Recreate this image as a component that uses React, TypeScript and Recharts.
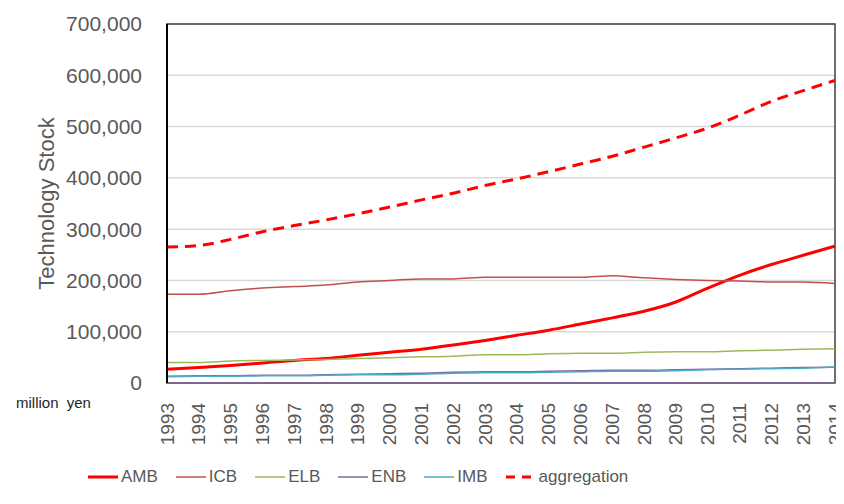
import {
  LineChart,
  Line,
  XAxis,
  YAxis,
  CartesianGrid,
  Legend,
  ReferenceArea,
  Label,
} from 'recharts';

const years = [
  '1993', '1994', '1995', '1996', '1997', '1998', '1999', '2000', '2001', '2002', '2003',
  '2004', '2005', '2006', '2007', '2008', '2009', '2010', '2011', '2012', '2013', '2014',
];

// million yen
const amb = [27000, 30000, 34000, 39000, 44000, 48000, 54000, 60000, 66000, 74000, 83000,
  93000, 103000, 115000, 127000, 140000, 158000, 185000, 210000, 231000, 249000, 267000];
const icb = [173000, 173000, 180000, 185000, 188000, 191000, 197000, 200000, 203000, 203000, 206000,
  206000, 206000, 206000, 209000, 205000, 202000, 200000, 199000, 197000, 197000, 194000];
const elb = [40000, 40000, 43000, 44000, 45000, 46000, 48000, 49000, 51000, 52000, 55000,
  55000, 57000, 58000, 58000, 60000, 61000, 61000, 63000, 64000, 66000, 67000];
const enb = [13000, 14000, 14000, 15000, 15000, 16000, 17000, 18000, 19000, 21000, 22000,
  22000, 23000, 24000, 25000, 25000, 26000, 27000, 28000, 29000, 30000, 31000];
const imb = [12000, 13000, 13000, 14000, 14000, 15000, 16000, 16000, 17000, 19000, 20000,
  20000, 21000, 22000, 23000, 23000, 24000, 26000, 27000, 28000, 29000, 31000];
const aggregation = [265000, 268000, 280000, 295000, 307000, 318000, 330000, 343000, 357000, 370000, 385000,
  398000, 412000, 427000, 442000, 460000, 478000, 497000, 522000, 549000, 570000, 590000];

const yTicks = [0, 100000, 200000, 300000, 400000, 500000, 600000, 700000];

const data = years.map((year, i) => ({
  year,
  AMB: amb[i],
  ICB: icb[i],
  ELB: elb[i],
  ENB: enb[i],
  IMB: imb[i],
  aggregation: aggregation[i],
}));

const TEXT = '#595959';
const GRID = '#d9d9d9';
const FONT = '"Liberation Sans", Arial, sans-serif';

const series = [
  { key: 'AMB', color: '#FF0000', width: 3, dash: undefined as string | undefined },
  { key: 'ICB', color: '#C0504D', width: 1.5, dash: undefined },
  { key: 'ELB', color: '#9BBB59', width: 1.5, dash: undefined },
  { key: 'ENB', color: '#8064A2', width: 1.5, dash: undefined },
  { key: 'IMB', color: '#4BACC6', width: 1.5, dash: undefined },
  { key: 'aggregation', color: '#FF0000', width: 3, dash: '11 7' },
];

function YearTick({ x, y, payload }: any) {
  return (
    <text
      x={x}
      y={y}
      transform={`rotate(-90, ${x}, ${y})`}
      textAnchor="end"
      dominantBaseline="central"
      fill={TEXT}
      fontSize={19}
      fontFamily={FONT}
    >
      {payload.value}
    </text>
  );
}

function LegendContent() {
  return (
    <div style={{ display: 'flex', alignItems: 'center', fontFamily: FONT, fontSize: 17, color: TEXT }}>
      {series.map(s => (
        <div key={s.key} style={{ display: 'flex', alignItems: 'center', marginRight: 18 }}>
          <svg width={30} height={10}>
            <line
              x1={0} y1={5} x2={30} y2={5}
              stroke={s.color}
              strokeWidth={s.width}
              strokeDasharray={s.dash ? '9 7' : undefined}
            />
          </svg>
          <span style={{ marginLeft: 3 }}>{s.key}</span>
        </div>
      ))}
    </div>
  );
}

export default function App() {
  return (
    <div style={{ position: 'relative', width: 844, height: 504, margin: -8, overflow: 'hidden', background: '#fff' }}>
      <div style={{
        position: 'absolute', left: 5, top: 4, width: 900, height: 600,
        borderTop: `2px solid ${GRID}`, borderLeft: `2px solid ${GRID}`,
      }} />
      <div style={{
        position: 'absolute', left: 16, top: 394, fontFamily: FONT, fontSize: 15,
        color: '#262626', wordSpacing: 4,
      }}>
        million yen
      </div>
      <div style={{ position: 'absolute', left: 0, top: 0 }}>
        <LineChart width={844} height={504} data={data} margin={{ top: 24, right: 9, left: 0, bottom: 42 }}>
          <CartesianGrid stroke={GRID} strokeWidth={1.5} vertical={false} />
          <ReferenceArea x1="1993" x2="2014" y1={0} y2={700000} fill="none" stroke="#404040" strokeWidth={1.5} ifOverflow="visible" />
          <XAxis
            dataKey="year"
            interval={0}
            height={55}
            tick={<YearTick />}
            tickLine={false}
            tickSize={0}
            tickMargin={20}
            axisLine={{ stroke: '#8064A2', strokeWidth: 1.5 }}
          />
          <YAxis
            domain={[0, 700000]}
            ticks={yTicks}
            width={167}
            tickFormatter={v => (v as number).toLocaleString('en-US')}
            tick={{ fill: TEXT, fontSize: 21, fontFamily: FONT }}
            tickLine={false}
            tickSize={0}
            tickMargin={25}
            axisLine={{ stroke: '#000', strokeWidth: 2 }}
          >
            <Label
              value="Technology Stock"
              angle={-90}
              position="insideLeft"
              offset={46}
              style={{ textAnchor: 'middle', fill: TEXT, fontSize: 22, fontFamily: FONT }}
            />
          </YAxis>
          {series.map(s => (
            <Line
              key={s.key}
              type="monotone"
              dataKey={s.key}
              stroke={s.color}
              strokeWidth={s.width}
              strokeDasharray={s.dash}
              dot={false}
              isAnimationActive={false}
            />
          ))}
          <Legend
            content={<LegendContent />}
            verticalAlign="bottom"
            wrapperStyle={{ top: 467, left: 88, height: 24, width: 'auto' }}
          />
        </LineChart>
      </div>
    </div>
  );
}
